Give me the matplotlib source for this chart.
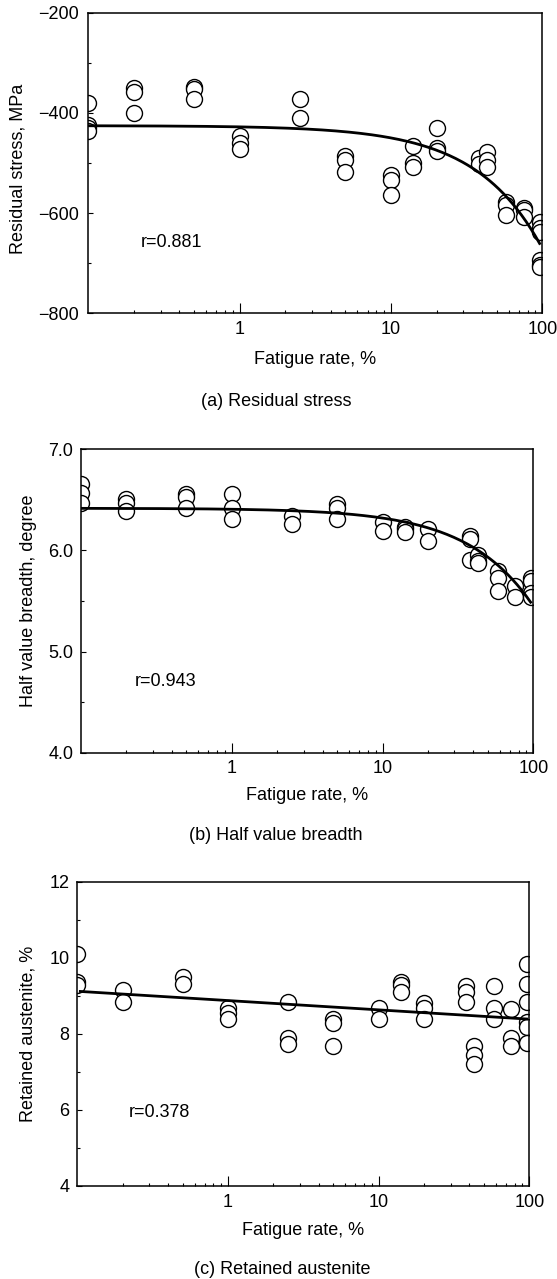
import numpy as np
import matplotlib
matplotlib.use("Agg")
import matplotlib.pyplot as plt
from matplotlib.ticker import FixedLocator, MultipleLocator, NullFormatter, FormatStrFormatter

plt.rcParams['font.family'] = ['Liberation Sans', 'DejaVu Sans']
plt.rcParams['font.size'] = 13

# (a) residual stress, MPa
rate_a = [0.1, 0.1, 0.1, 0.1, 0.2, 0.2, 0.2, 0.5, 0.5, 0.5, 1, 1, 1, 2.5, 2.5,
          5, 5, 5, 10, 10, 10, 14, 14, 14, 20, 20, 20, 38, 38, 43, 43, 43,
          58, 58, 58, 76, 76, 76, 96, 96, 96, 96, 96, 96]
stress = [-381, -424, -430, -437, -350, -358, -400, -348, -353, -372, -447, -460, -473, -373, -410,
          -487, -495, -517, -523, -533, -563, -467, -500, -507, -430, -470, -477, -490, -502, -479, -495, -507,
          -577, -584, -604, -590, -594, -607, -617, -630, -637, -694, -704, -707]

# (b) half value breadth, degree
rate_b = [0.1, 0.1, 0.1, 0.2, 0.2, 0.2, 0.5, 0.5, 0.5, 1, 1, 1, 2.5, 2.5,
          5, 5, 5, 10, 10, 14, 14, 14, 20, 20, 38, 38, 38, 43, 43, 43,
          58, 58, 58, 76, 76, 96, 96, 96, 96]
breadth = [6.66, 6.57, 6.47, 6.51, 6.47, 6.39, 6.56, 6.53, 6.42, 6.56, 6.42, 6.31, 6.34, 6.26,
           6.46, 6.42, 6.31, 6.28, 6.19, 6.23, 6.21, 6.18, 6.21, 6.09, 6.14, 6.11, 5.91, 5.95, 5.90, 5.88,
           5.80, 5.73, 5.60, 5.65, 5.54, 5.73, 5.70, 5.58, 5.54]

# (c) retained austenite, %
rate_c = [0.1, 0.1, 0.1, 0.2, 0.2, 0.5, 0.5, 1, 1, 1, 2.5, 2.5, 2.5,
          5, 5, 5, 10, 10, 14, 14, 14, 20, 20, 20, 38, 38, 38, 43, 43, 43,
          58, 58, 58, 76, 76, 76, 96, 96, 96, 96, 96, 96]
austenite = [10.1, 9.37, 9.28, 9.15, 8.85, 9.5, 9.3, 8.67, 8.54, 8.38, 8.85, 7.88, 7.73,
             8.40, 8.29, 7.68, 8.67, 8.38, 9.37, 9.28, 9.11, 8.80, 8.67, 8.38, 9.26, 9.11, 8.84, 7.68, 7.44, 7.20,
             9.26, 8.67, 8.38, 8.65, 7.90, 7.68, 9.83, 9.32, 8.84, 8.32, 8.18, 7.76]

W, H = 557, 1279
fig = plt.figure(figsize=(W / 100, H / 100), dpi=100)


def axes_px(left, right, top, bottom):
    return fig.add_axes([left / W, 1 - bottom / H, (right - left) / W, (bottom - top) / H])


def style(ax, ymin, ymax, ymaj, ymin_step, ylabel, rtext, rpos, ypad, ylab_x, xlab_y, ylab_y=0.5):
    ax.set_xscale('log')
    ax.set_xlim(0.1, 100)
    ax.set_ylim(ymin, ymax)
    ax.xaxis.set_major_locator(FixedLocator([1, 10, 100]))
    ax.set_xticklabels(['1', '10', '100'])
    ax.xaxis.set_minor_formatter(NullFormatter())
    ax.yaxis.set_major_locator(MultipleLocator(ymaj))
    ax.yaxis.set_minor_locator(MultipleLocator(ymin_step))
    ax.tick_params(which='both', direction='in', top=False, right=False, width=0.8)
    ax.tick_params(axis='x', which='major', length=7, pad=5.5)
    ax.tick_params(axis='x', which='minor', length=2)
    ax.tick_params(axis='y', which='major', length=3.5, pad=ypad)
    ax.tick_params(axis='y', which='minor', length=2.5)
    for s in ax.spines.values():
        s.set_linewidth(1.1)
    ax.set_xlabel('Fatigue rate, %', va='center')
    ax.xaxis.set_label_coords(0.5, xlab_y)
    ax.set_ylabel(ylabel, va='center')
    ax.yaxis.set_label_coords(ylab_x, ylab_y)
    ax.text(rpos[0], rpos[1], rtext, transform=ax.transAxes, ha='center', va='center')


def scatter(ax, x, y):
    ax.plot(x, y, 'o', ms=11.5, mfc='white', mec='black', mew=1.0, linestyle='none', zorder=2)


# (a) regression linear in fatigue rate
ax_a = axes_px(88.3, 542.3, 12.7, 313.3)
scatter(ax_a, rate_a, stress)
k = np.polyfit(rate_a, stress, 1)
xs = np.logspace(np.log10(min(rate_a)), np.log10(max(rate_a)), 200)
ax_a.plot(xs, np.polyval(k, xs), color='black', lw=2, zorder=3)
style(ax_a, -800, -200, 200, 100, 'Residual stress, MPa', 'r=0.881', (0.184, 0.234), 6.5,
      (17.8 - 88.3) / 454, (313.3 - 360) / 300.6, (313.3 - 168.5) / 300.6)

# (b)
ax_b = axes_px(81, 533.3, 449.3, 752.7)
scatter(ax_b, rate_b, breadth)
k = np.polyfit(rate_b, breadth, 1)
xs = np.logspace(np.log10(min(rate_b)), np.log10(max(rate_b)), 200)
ax_b.plot(xs, np.polyval(k, xs), color='black', lw=2, zorder=3)
style(ax_b, 4.0, 7.0, 1.0, 0.5, 'Half value breadth, degree', 'r=0.943', (0.188, 0.236), 5.5,
      (28.4 - 81) / 452.3, (752.7 - 796) / 303.4)
ax_b.yaxis.set_major_formatter(FormatStrFormatter('%.1f'))

# (c) regression linear in log(rate)
ax_c = axes_px(77.3, 529.3, 881.7, 1186)
scatter(ax_c, rate_c, austenite)
k = np.polyfit(np.log10(rate_c), austenite, 1)
xs = np.logspace(np.log10(min(rate_c)) + 0.02, np.log10(max(rate_c)), 200)
ax_c.plot(xs, np.polyval(k, np.log10(xs)), color='black', lw=2, zorder=3)
style(ax_c, 4, 12, 2, 1, 'Retained austenite, %', 'r=0.378', (0.181, 0.241), 5.5,
      (28.4 - 77.3) / 452, (1186 - 1230.7) / 304.3)

fig.text(276 / W, 1 - 402 / H, '(a) Residual stress', ha='center', va='center')
fig.text(276 / W, 1 - 836 / H, '(b) Half value breadth', ha='center', va='center')
fig.text(282 / W, 1 - 1270 / H, '(c) Retained austenite', ha='center', va='center')

fig.savefig('out.png', dpi=100)
